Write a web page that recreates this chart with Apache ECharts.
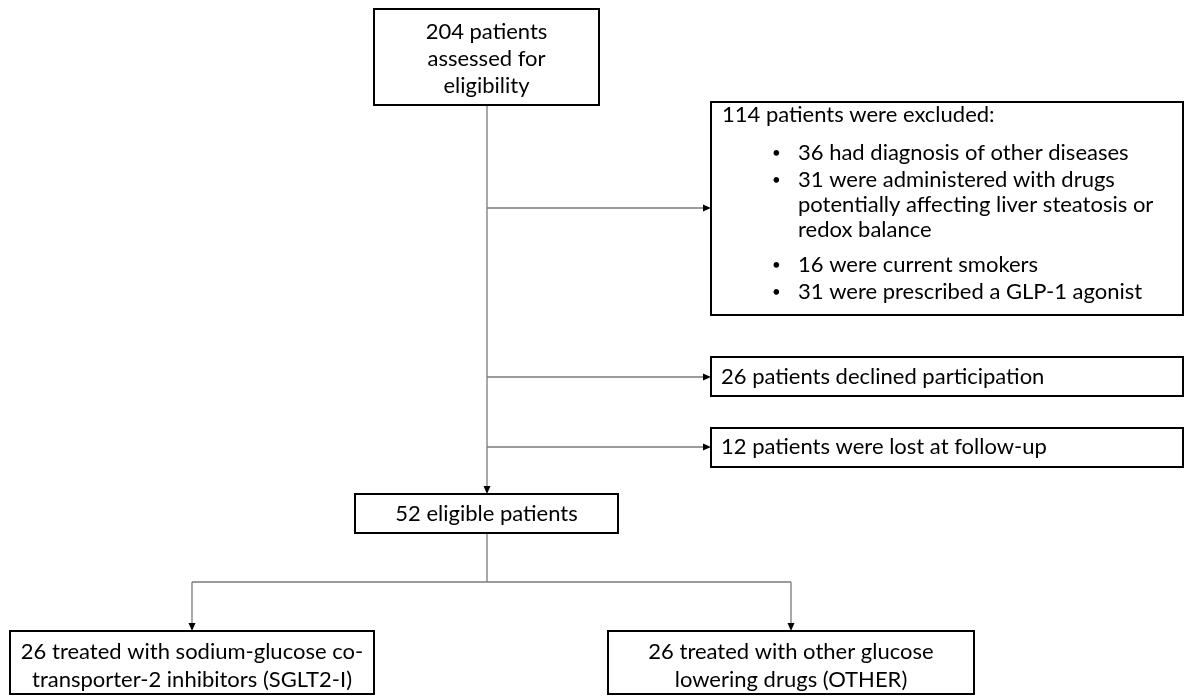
<!DOCTYPE html>
<html>
<head>
<meta charset="utf-8">
<script src="https://cdn.jsdelivr.net/npm/echarts@6/dist/echarts.min.js"></script>
<style>
html,body{margin:0;padding:0;background:#fff;}
#chart{width:1186px;height:697px;}
</style>
</head>
<body>
<div id="chart"></div>
<script>
// ---- data (values & texts) ----
const assessedCount = 204;
const excludedCount = 114;
const exclusionCounts = [36, 31, 16, 31];
const exclusionReasons = [
  ['had diagnosis of other diseases'],
  ['were administered with drugs', 'potentially affecting liver steatosis or', 'redox balance'],
  ['were current smokers'],
  ['were prescribed a GLP-1 agonist']
];
const declinedCount = 26;
const lostCount = 12;
const eligibleCount = 52;
const groupCounts = [26, 26];
const groupTexts = [
  ['treated with sodium-glucose co-', 'transporter-2 inhibitors (SGLT2-I)'],
  ['treated with other glucose', 'lowering drugs (OTHER)']
];

// ---- layout (positions only, in page-pixel units on hidden value axes) ----
const W = 1186, H = 697;
const FONT = 'Lato, "Open Sans", sans-serif';
const FS = 22;

const boxes = [
  { r: [374, 9, 599, 105], align: 'center', lines: [
      { t: assessedCount + ' patients', y: 32 },
      { t: 'assessed for', y: 59 },
      { t: 'eligibility', y: 86 }] },
  { r: [711, 102, 1183, 315], align: 'left', lines: (function () {
      const ys = [[153], [180, 205, 230], [265], [292]];
      const out = [{ t: excludedCount + ' patients were excluded:', y: 115, x: 722 }];
      exclusionReasons.forEach((ls, i) => {
        out.push({ t: '•', y: ys[i][0], x: 772, fs: 15 });
        ls.forEach((l, j) => out.push({ t: (j === 0 ? exclusionCounts[i] + ' ' : '') + l, y: ys[i][j], x: 798 }));
      });
      return out;
    })() },
  { r: [711, 357, 1183, 396], align: 'left', lines: [{ t: declinedCount + ' patients declined participation', y: 377, x: 721 }] },
  { r: [711, 428, 1183, 467], align: 'left', lines: [{ t: lostCount + ' patients were lost at follow-up', y: 447, x: 721 }] },
  { r: [355, 494, 618, 533], align: 'center', lines: [{ t: eligibleCount + ' eligible patients', y: 514 }] },
  { r: [10, 631, 374, 694], align: 'center', lines: [
      { t: groupCounts[0] + ' ' + groupTexts[0][0], y: 652 },
      { t: groupTexts[0][1], y: 680 }] },
  { r: [608, 631, 974, 694], align: 'center', lines: [
      { t: groupCounts[1] + ' ' + groupTexts[1][0], y: 652 },
      { t: groupTexts[1][1], y: 680 }] }
];

const connectors = [
  { p: [[487, 105], [487, 494]], arrow: true },
  { p: [[487, 208], [711, 208]], arrow: true },
  { p: [[487, 377], [711, 377]], arrow: true },
  { p: [[487, 447], [711, 447]], arrow: true },
  { p: [[487, 533], [487, 582]], arrow: false },
  { p: [[192, 582], [791, 582]], arrow: false },
  { p: [[192, 582], [192, 631]], arrow: true },
  { p: [[791, 582], [791, 631]], arrow: true }
];

function renderBox(params, api) {
  const b = boxes[params.dataIndex];
  const p0 = api.coord([b.r[0], b.r[1]]);
  const p1 = api.coord([b.r[2], b.r[3]]);
  const children = [{
    type: 'rect',
    shape: { x: p0[0], y: p0[1], width: p1[0] - p0[0], height: p1[1] - p0[1] },
    style: { fill: '#ffffff', stroke: '#000000', lineWidth: 2 }
  }];
  const cx = (b.r[0] + b.r[2]) / 2;
  b.lines.forEach(l => {
    const pt = api.coord([b.align === 'center' ? cx : l.x, l.y]);
    children.push({
      type: 'text',
      style: {
        x: pt[0], y: pt[1], text: l.t,
        fill: '#000000', fontSize: l.fs || FS, fontFamily: FONT,
        align: b.align, verticalAlign: 'middle'
      }
    });
  });
  return { type: 'group', children: children };
}

function renderConnector(params, api) {
  const c = connectors[params.dataIndex];
  const pts = c.p.map(q => api.coord(q));
  const children = [];
  const a = pts[0], b = pts[pts.length - 1];
  let end = b.slice();
  const dx = b[0] - a[0], dy = b[1] - a[1];
  const len = Math.sqrt(dx * dx + dy * dy);
  const ux = dx / len, uy = dy / len;
  const AL = 8, AW = 3.5;
  if (c.arrow) end = [b[0] - ux * (AL - 1), b[1] - uy * (AL - 1)];
  children.push({
    type: 'polyline',
    shape: { points: [a, end] },
    style: { stroke: '#7a7a7a', lineWidth: 1.3, fill: null }
  });
  if (c.arrow) {
    const base = [b[0] - ux * AL, b[1] - uy * AL];
    children.push({
      type: 'polygon',
      shape: { points: [b, [base[0] - uy * AW, base[1] + ux * AW], [base[0] + uy * AW, base[1] - ux * AW]] },
      style: { fill: '#000000' }
    });
  }
  return { type: 'group', children: children };
}

const chart = echarts.init(document.getElementById('chart'), null, { renderer: 'canvas' });
chart.setOption({
  animation: false,
  backgroundColor: '#ffffff',
  grid: { left: 0, right: 0, top: 0, bottom: 0 },
  xAxis: { type: 'value', min: 0, max: W, show: false },
  yAxis: { type: 'value', min: 0, max: H, inverse: true, show: false },
  series: [
    { type: 'custom', renderItem: renderConnector, clip: false, silent: true,
      data: connectors.map((c, i) => [c.p[0][0], c.p[0][1]]) },
    { type: 'custom', renderItem: renderBox, clip: false, silent: true,
      data: boxes.map(b => [b.r[0], b.r[1]]) }
  ]
});
</script>
</body>
</html>
